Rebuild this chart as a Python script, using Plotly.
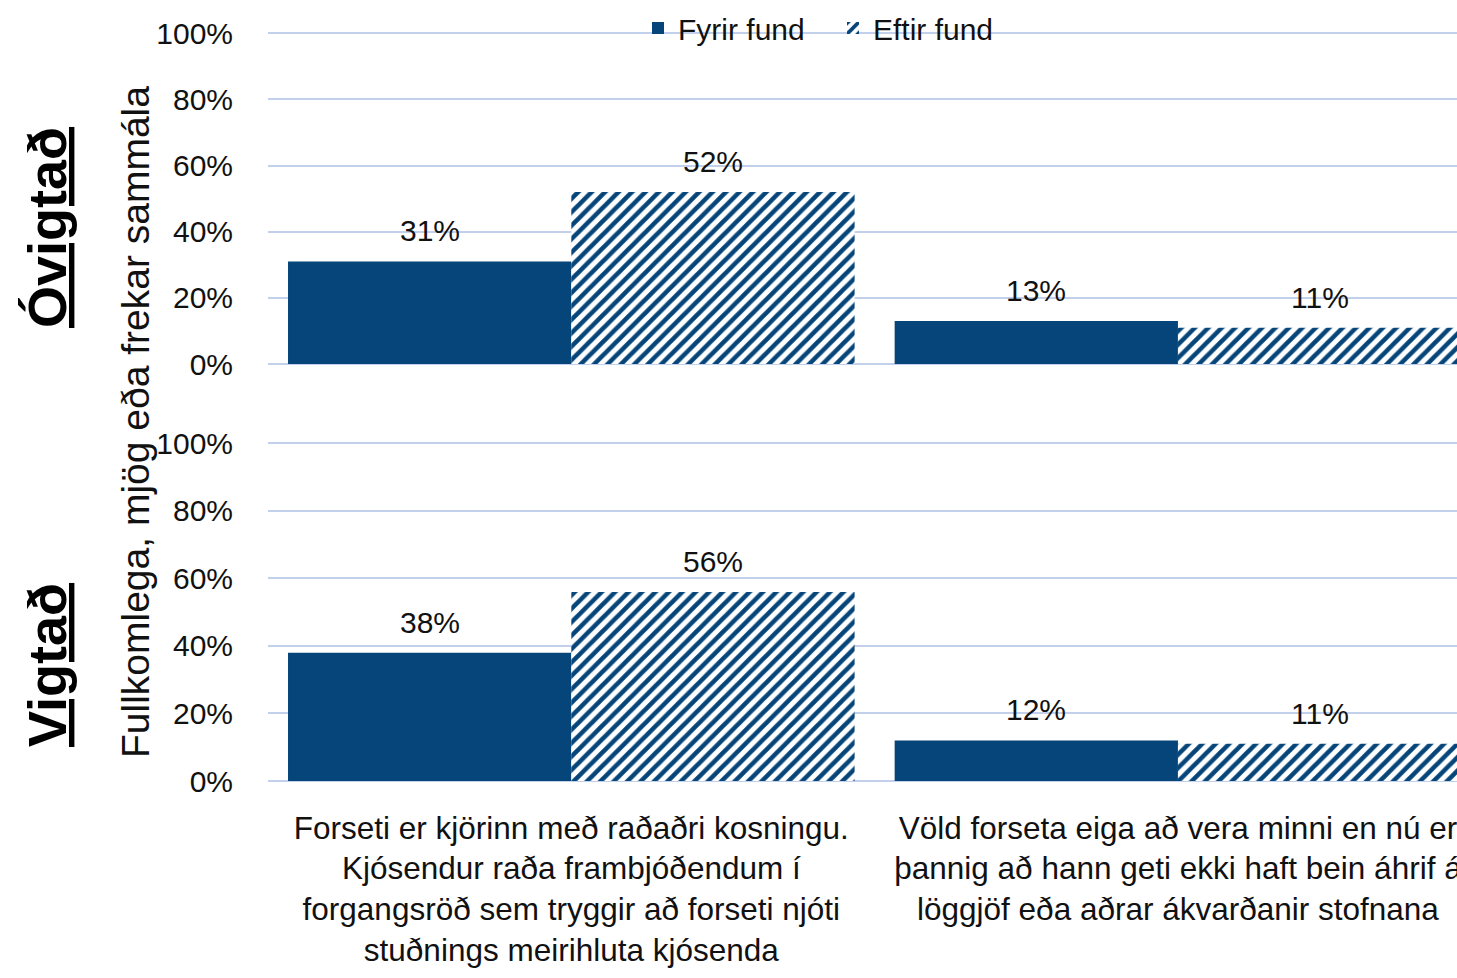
import plotly.graph_objects as go

# ---------------------------
# Data
# ---------------------------
categories = [
    "Forseti er kjörinn með raðaðri kosningu.<br>Kjósendur raða frambjóðendum í<br>forgangsröð sem tryggir að forseti njóti<br>stuðnings meirihluta kjósenda",
    "Völd forseta eiga að vera minni en nú er<br>þannig að hann geti ekki haft bein áhrif á<br>löggjöf eða aðrar ákvarðanir stofnana",
]
series_names = ["Fyrir fund", "Eftir fund"]

# Óvigtað (top panel)
ovigtad_fyrir = [31, 13]
ovigtad_eftir = [52, 11]

# Vigtað (bottom panel)
vigtad_fyrir = [38, 12]
vigtad_eftir = [56, 11]

y_ticks = [0, 20, 40, 60, 80, 100]
y_tick_labels = ["0%", "20%", "40%", "60%", "80%", "100%"]

# ---------------------------
# Styling
# ---------------------------
W, H = 1457, 978
BLUE = "#064579"
GRID = "#c3d0ec"
TXT = "#111111"
FONT = "Liberation Sans, Arial, sans-serif"

PLOT_L = 268                 # left edge of the plot area (px)
x_range = [-0.5, 1.46]
y_top = 100.4                # a hair above 100 so the 100% gridline is drawn
bargap = 0.066
cat_px = (W - PLOT_L) / (x_range[1] - x_range[0])
half_bar = cat_px * (1 - bargap) / 4   # offset of each bar centre from category centre


def py(px):
    return 1 - px / H


def pxx(px):
    return px / W


fig = go.Figure()

panels = [
    ("x", "y", ovigtad_fyrir, ovigtad_eftir, True),
    ("x2", "y2", vigtad_fyrir, vigtad_eftir, False),
]
for xa, ya, fyrir, eftir, show in panels:
    fig.add_trace(go.Bar(
        x=categories, y=fyrir, name=series_names[0], xaxis=xa, yaxis=ya,
        marker=dict(color=BLUE, line=dict(width=0)),
        showlegend=show, legendgroup="a", hoverinfo="y",
    ))
    fig.add_trace(go.Bar(
        x=categories, y=eftir, name=series_names[1], xaxis=xa, yaxis=ya,
        marker=dict(color="white", line=dict(width=0),
                    pattern=dict(shape="/", fgcolor=BLUE, bgcolor="white",
                                 fgopacity=1, size=9.5, solidity=0.48)),
        showlegend=show, legendgroup="b", hoverinfo="y",
    ))
    # value labels above the bars
    for vals, sign in ((fyrir, -1), (eftir, 1)):
        for cat, v in zip(categories, vals):
            fig.add_annotation(
                x=cat, y=v, xref=xa, yref=ya, text=f"{v}%",
                xshift=sign * half_bar, yshift=12, yanchor="bottom",
                showarrow=False, font=dict(size=30, color=TXT),
            )

xdom = [pxx(PLOT_L), 1]
yax = dict(range=[0, y_top], tickmode="array", tickvals=y_ticks,
           ticktext=y_tick_labels, showgrid=True, gridcolor=GRID, gridwidth=2,
           zeroline=True, zerolinecolor=GRID, zerolinewidth=2,
           showline=False, ticks="", tickfont=dict(size=30, color=TXT),
           ticklabelstandoff=34)

fig.update_layout(
    width=W, height=H,
    margin=dict(l=0, r=0, t=0, b=0, autoexpand=False),
    paper_bgcolor="white", plot_bgcolor="white",
    font=dict(family=FONT, color=TXT),
    barmode="group", bargap=bargap, bargroupgap=0,
    xaxis=dict(domain=xdom, anchor="y", range=x_range, showticklabels=False,
               showgrid=False, showline=False, ticks=""),
    yaxis=dict(domain=[py(364), py(32)], anchor="x", **yax),
    xaxis2=dict(domain=xdom, anchor="y2", range=x_range, showgrid=False,
                showline=False, ticks="", tickfont=dict(size=31.5, color=TXT),
                ticklabelstandoff=25),
    yaxis2=dict(domain=[py(781), py(442)], anchor="x2", **yax),
    legend=dict(orientation="h", x=pxx(638), xanchor="left", y=py(28),
                yanchor="middle", font=dict(size=30, color=TXT),
                bgcolor="rgba(0,0,0,0)", itemwidth=30, traceorder="normal",
                entrywidth=150),
    hovermode="closest",
)

fig.add_annotation(
    text="Fullkomlega, mjög eða frekar sammála", textangle=-90,
    xref="paper", yref="paper", x=pxx(135), y=py(422),
    xanchor="center", yanchor="middle",
    showarrow=False, font=dict(size=39, color=TXT),
)
fig.add_annotation(
    text="<b><u>Óvigtað</u></b>", textangle=-90,
    xref="paper", yref="paper", x=pxx(47), y=py(228),
    xanchor="center", yanchor="middle",
    showarrow=False, font=dict(size=54, color="#000"),
)
fig.add_annotation(
    text="<b><u>Vigtað</u></b>", textangle=-90,
    xref="paper", yref="paper", x=pxx(47), y=py(665),
    xanchor="center", yanchor="middle",
    showarrow=False, font=dict(size=54, color="#000"),
)

# drop the default page margin so the figure sits at the window's top-left
fig.write_html("out.html", config={"displayModeBar": False},
               post_script="document.body.style.margin='0';")
